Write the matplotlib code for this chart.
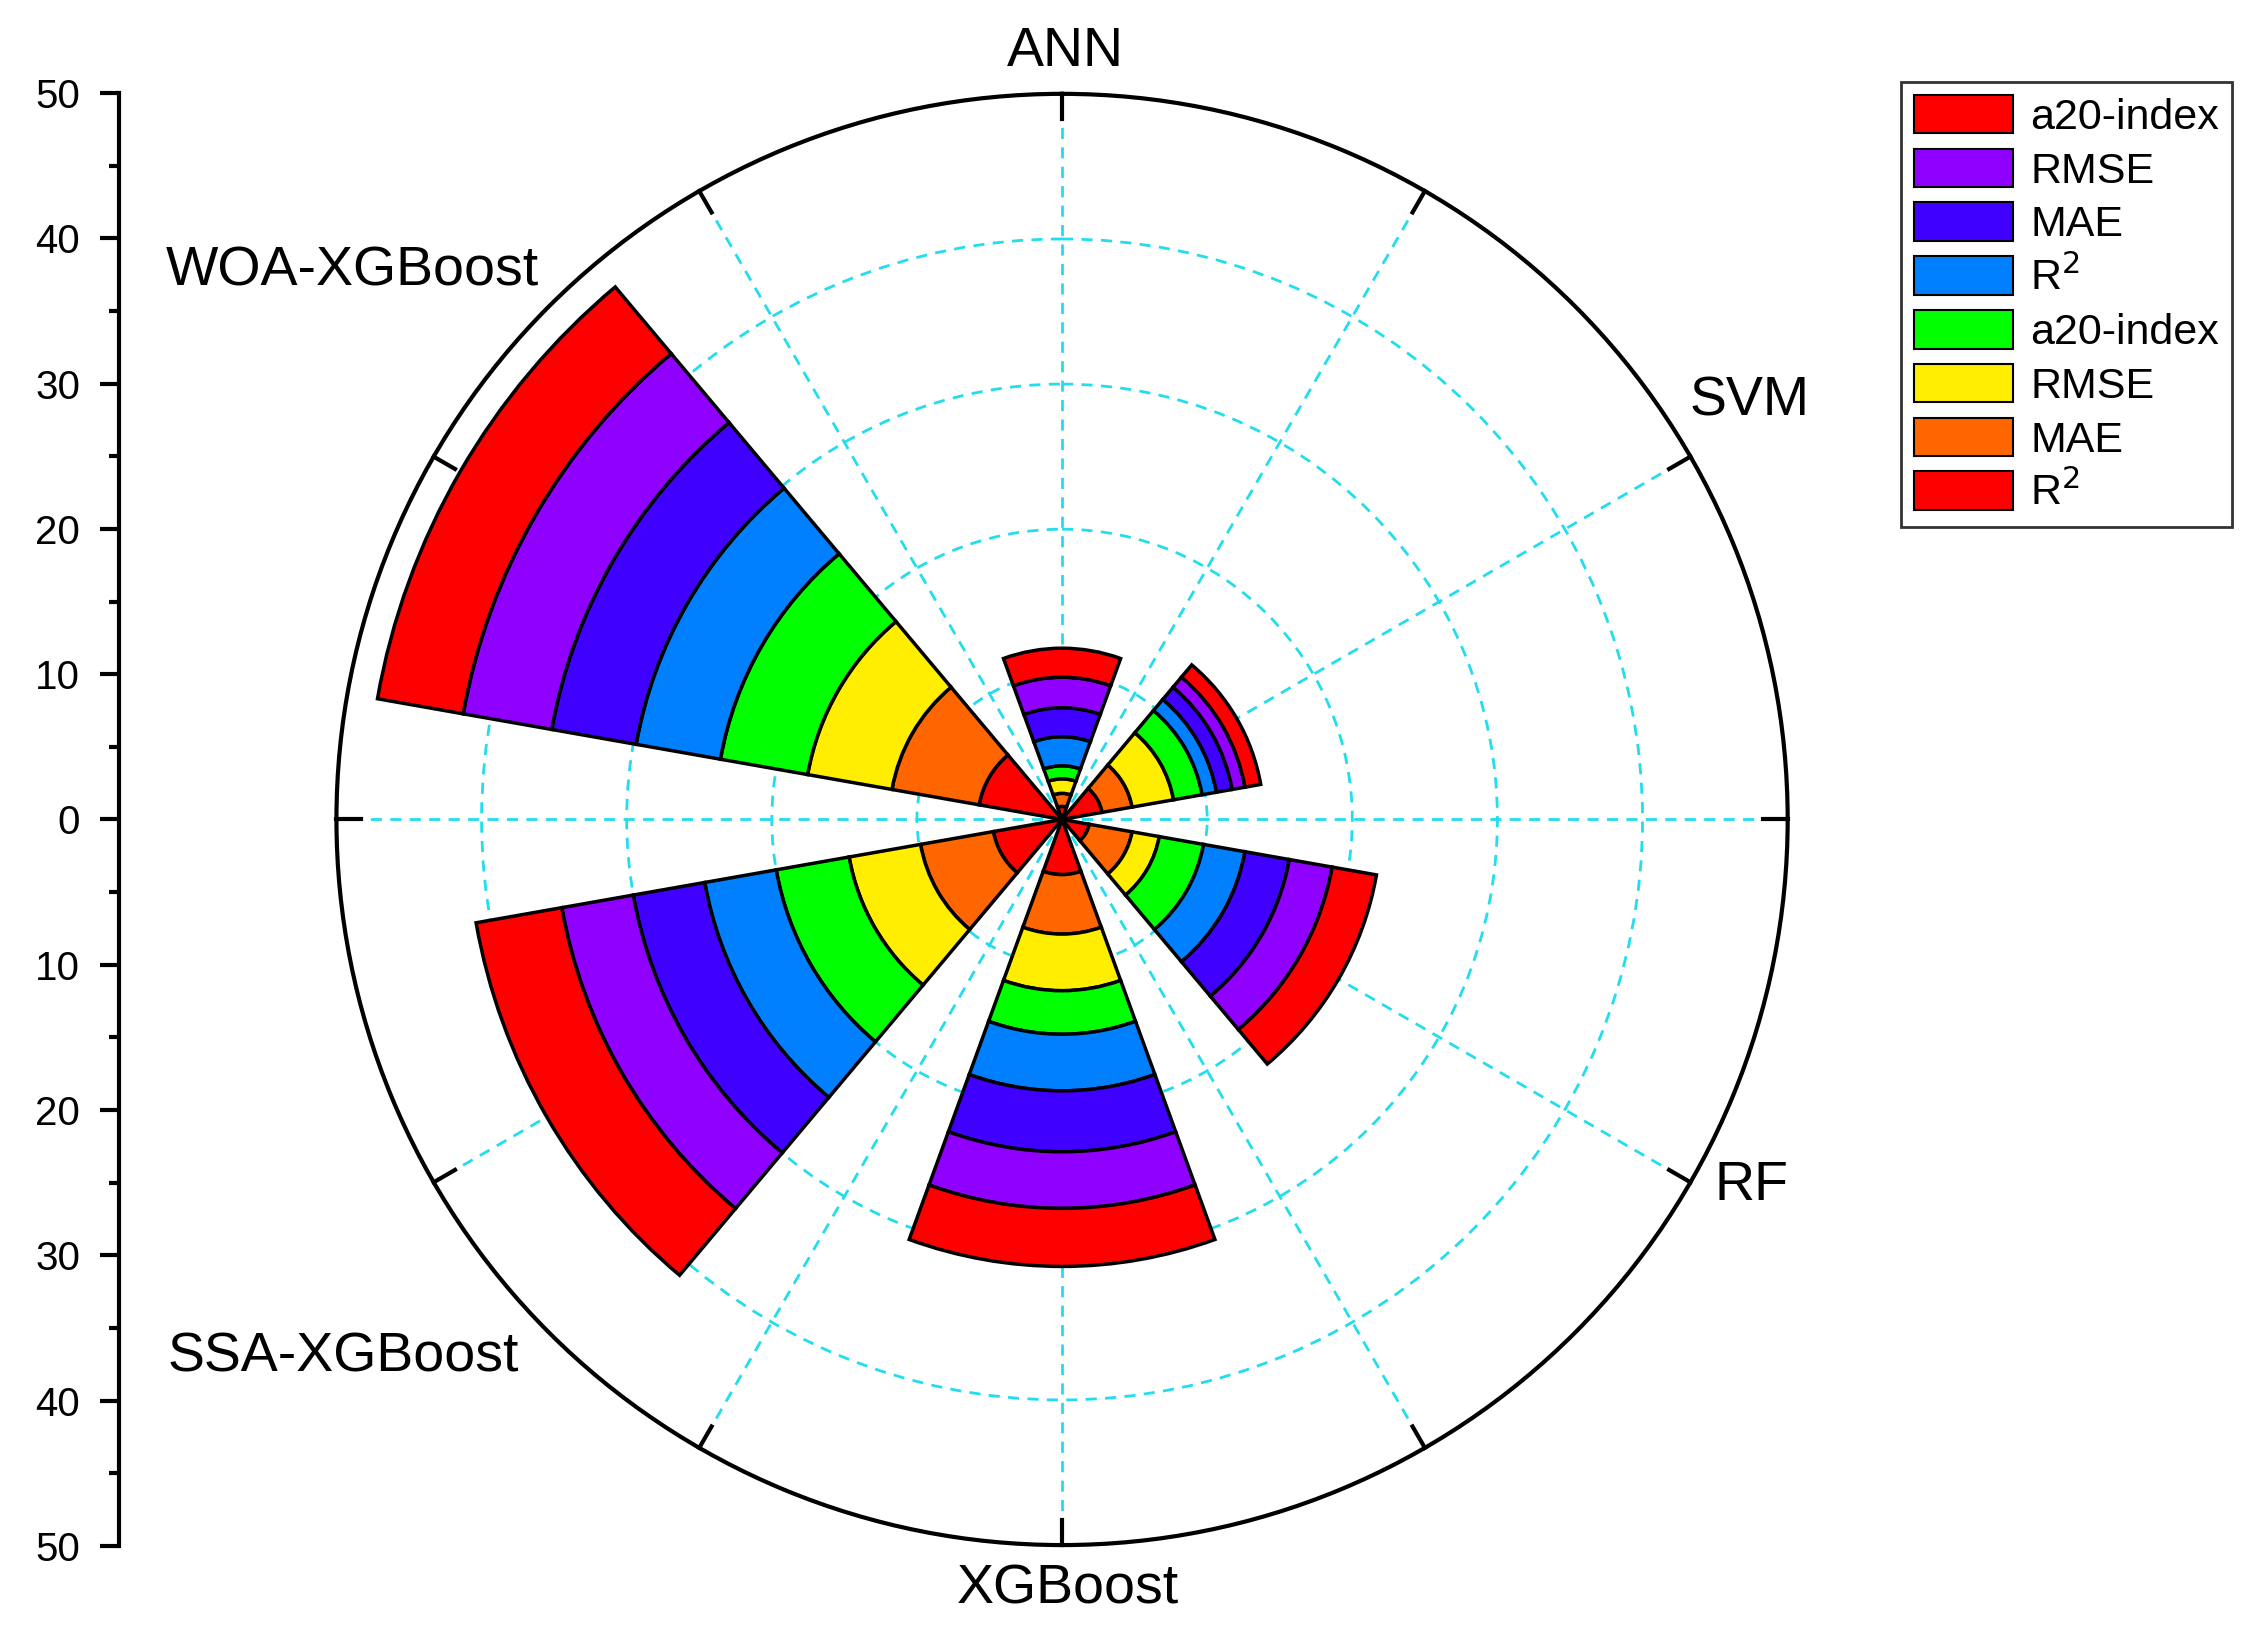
import numpy as np
import matplotlib.pyplot as plt
from matplotlib.patches import Patch

models = ['ANN', 'SVM', 'RF', 'XGBoost', 'SSA-XGBoost', 'WOA-XGBoost']
# stacked from the centre outwards
seg_names = ['R$^2$', 'MAE', 'RMSE', 'a20-index', 'R$^2$', 'MAE', 'RMSE', 'a20-index']
seg_colors = ['#FF0000', '#FF6600', '#FFEE00', '#00FF00', '#0080FF', '#4000FF', '#9000FF', '#FF0000']
values = [
    [0.9, 0.9, 1.0, 0.9, 2.0, 2.0, 2.1, 2.0],   # ANN
    [2.8, 2.1, 2.9, 2.0, 1.0, 1.1, 0.9, 1.1],   # SVM
    [1.9, 3.0, 1.9, 3.1, 2.9, 3.1, 3.0, 3.1],   # RF
    [3.8, 4.1, 3.9, 3.0, 3.9, 4.2, 3.9, 4.0],   # XGBoost
    [4.8, 5.1, 5.0, 5.1, 5.0, 5.0, 5.0, 6.0],   # SSA-XGBoost
    [5.8, 6.1, 5.9, 6.1, 5.9, 5.9, 6.2, 6.0],   # WOA-XGBoost
]

plt.rcParams['font.family'] = ['Liberation Sans', 'DejaVu Sans']
fig = plt.figure(figsize=(22.43, 16.34), dpi=100)
ax = fig.add_axes([0.150, 0.054, 0.647, 0.889], projection='polar')
ax.set_theta_zero_location('N')
ax.set_theta_direction(-1)
ax.set_ylim(0, 50)

theta = np.deg2rad(np.arange(len(models)) * 60)
width = np.deg2rad(40)
vals = np.array(values)
bottom = np.zeros(len(models))
for j in range(vals.shape[1]):
    ax.bar(theta, vals[:, j], width=width, bottom=bottom, color=seg_colors[j],
           edgecolor='black', linewidth=2.5, zorder=3)
    bottom += vals[:, j]

ax.set_xticks(np.deg2rad(np.arange(0, 360, 30)))
ax.set_xticklabels([])
ax.set_yticks([10, 20, 30, 40])
ax.set_yticklabels([])
ax.grid(True, color='#22DDEE', linestyle=(0, (4, 3)), linewidth=2)
ax.spines['polar'].set_linewidth(3)
for a in np.deg2rad(np.arange(0, 360, 30)):
    ax.plot([a, a], [48.3, 50], color='black', lw=3, clip_on=False, zorder=4)

# category labels
label_pos = [(0.475, 0.968), (0.780, 0.754), (0.781, 0.274),
             (0.476, 0.027), (0.153, 0.169), (0.157, 0.834)]
for name, (x, y) in zip(models, label_pos):
    fig.text(x, y, name, fontsize=40, ha='center', va='center')

# left radial scale
lax = fig.add_axes([0.053, 0.054, 0.001, 0.889])
lax.set_ylim(-50, 50)
lax.set_xticks([])
for s in ['top', 'right', 'bottom']:
    lax.spines[s].set_visible(False)
lax.spines['left'].set_linewidth(3)
lax.set_yticks(np.arange(-50, 51, 10))
lax.set_yticklabels([str(abs(v)) for v in range(-50, 51, 10)], fontsize=29)
lax.set_yticks(np.arange(-45, 50, 10), minor=True)
lax.tick_params(axis='y', which='major', length=14, width=3, pad=14)
lax.tick_params(axis='y', which='minor', length=7, width=3)

handles = [Patch(facecolor=c, edgecolor='black', linewidth=1.5) for c in seg_colors[::-1]]
leg = fig.legend(handles, seg_names[::-1], loc='upper left', bbox_to_anchor=(0.838, 0.963),
                 fontsize=31, frameon=True, fancybox=False, edgecolor='black',
                 handlelength=2.3, handleheight=1.0, labelspacing=0.25, borderpad=0.3,
                 handletextpad=0.4)
leg.get_frame().set_linewidth(2)

fig.savefig('out.png', dpi=100)
